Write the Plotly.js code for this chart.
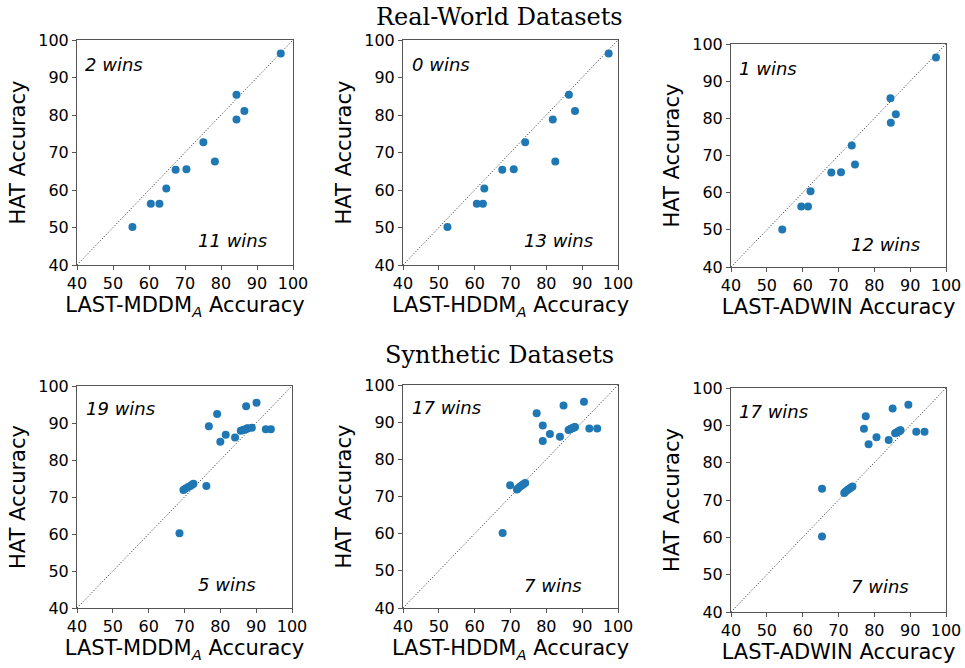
<!DOCTYPE html>
<html>
<head>
<meta charset="utf-8">
<script src="https://cdn.plot.ly/plotly-3.0.1.min.js"></script>
<style>html,body{margin:0;padding:0;background:#fff;}#chart{width:965px;height:668px;}</style>
</head>
<body>
<div id="chart"></div>
<script>
// ---- Real-world datasets ----
const realHAT   = [96.4, 85.4, 81.1, 78.8, 72.7, 67.6, 65.4, 65.5, 60.4, 56.3, 56.3, 50.1];
const realMDDM  = [96.6, 84.3, 86.5, 84.3, 75.1, 78.3, 67.4, 70.4, 64.8, 60.5, 62.9, 55.4];
const realHDDM  = [97.4, 86.3, 88.0, 81.8, 74.1, 82.5, 67.7, 70.9, 62.7, 60.6, 62.3, 52.4];
const realADWIN = [97.2, 84.5, 86.0, 84.6, 73.7, 74.6, 68.0, 70.7, 62.2, 59.6, 61.5, 54.3];

// ---- Synthetic datasets ----
const synHAT   = [95.5, 94.5, 92.4, 89.1, 86.8, 86.1, 84.9, 88.3, 88.3, 87.9, 88.1, 88.2, 88.4, 88.5, 88.6, 88.7, 73.0, 71.9, 72.3, 72.7, 73.0, 73.3, 73.6, 60.2];
const synMDDM  = [90.1, 87.2, 79.1, 76.8, 81.5, 84.1, 80.0, 92.7, 94.1, 85.7, 86.3, 86.8, 87.2, 87.5, 87.6, 88.8, 76.1, 69.7, 70.3, 71.0, 71.6, 72.1, 72.5, 68.6];
const synHDDM  = [90.5, 84.8, 77.3, 79.0, 81.0, 83.8, 79.0, 92.0, 94.2, 86.2, 86.6, 86.9, 87.3, 87.6, 87.8, 88.0, 69.9, 71.8, 72.2, 72.7, 73.2, 73.6, 74.1, 67.8];
const synADWIN = [89.5, 85.1, 77.6, 77.1, 80.6, 84.0, 78.4, 91.7, 94.0, 85.8, 86.2, 86.5, 86.8, 87.0, 87.2, 87.3, 65.4, 71.6, 72.0, 72.5, 73.0, 73.4, 73.9, 65.4];

const xTitles = ['LAST-MDDM<sub><i>A</i></sub> Accuracy', 'LAST-HDDM<sub><i>A</i></sub> Accuracy', 'LAST-ADWIN Accuracy'];
const yTitle = 'HAT Accuracy';
const winsTop = [['2 wins','11 wins'], ['0 wins','13 wins'], ['1 wins','12 wins'], ['19 wins','5 wins'], ['17 wins','7 wins'], ['17 wins','7 wins']];
const sectionTitles = ['Real-World Datasets', 'Synthetic Datasets'];
const tickVals = [40, 50, 60, 70, 80, 90, 100];

const W = 965, H = 668;
// pixel boxes [left, right, top, bottom]
const boxes = [
  [77, 293, 40, 265], [403, 618, 40, 265], [731, 946, 44, 267],
  [77, 292, 386, 608], [403, 618, 385, 608], [731, 946, 388, 612]
];
const winPos = [
  [[0.028,0.889],[0.55,0.107]], [[0.033,0.889],[0.553,0.107]], [[0.028,0.892],[0.549,0.103]],
  [[0.033,0.900],[0.553,0.104]], [[0.033,0.897],[0.553,0.103]], [[0.028,0.897],[0.549,0.112]]
];
const xs = [realMDDM, realHDDM, realADWIN, synMDDM, synHDDM, synADWIN];
const ys = [realHAT, realHAT, realHAT, synHAT, synHAT, synHAT];

const traces = [], shapes = [], annotations = [];
const layout = {
  width: W, height: H, margin: {l:0, r:0, t:0, b:0},
  paper_bgcolor: '#fff', plot_bgcolor: '#fff', showlegend: false,
  font: {family: 'DejaVu Sans', color: '#000'}
};
for (let i = 0; i < 6; i++) {
  const n = i === 0 ? '' : String(i + 1);
  const b = boxes[i];
  traces.push({
    type: 'scatter', mode: 'markers', x: xs[i], y: ys[i],
    xaxis: 'x' + n, yaxis: 'y' + n,
    marker: {color: '#1f77b4', size: 8, line: {width: 0}},
    hoverinfo: 'x+y'
  });
  const axCommon = {
    range: [40, 100], tickvals: tickVals, showgrid: false, zeroline: false,
    showline: true, mirror: true, linecolor: '#555', linewidth: 1,
    ticks: 'outside', ticklen: 4, tickcolor: '#555',
    tickfont: {size: 16, family: 'DejaVu Sans', color: '#000'}
  };
  layout['xaxis' + n] = Object.assign({}, axCommon, {
    domain: [b[0] / W, b[1] / W], anchor: 'y' + n,
    title: {text: xTitles[i % 3], font: {size: 21, family: 'DejaVu Sans'}, standoff: 4}
  });
  layout['yaxis' + n] = Object.assign({}, axCommon, {
    domain: [1 - b[3] / H, 1 - b[2] / H], anchor: 'x' + n,
    title: {text: yTitle, font: {size: 21, family: 'DejaVu Sans'}, standoff: 6}
  });
  shapes.push({type: 'line', xref: 'x' + n, yref: 'y' + n, x0: 40, y0: 40, x1: 100, y1: 100,
    line: {color: '#222', width: 1, dash: '1px,2px'}, layer: 'below'});
  for (let k = 0; k < 2; k++) {
    annotations.push({
      xref: 'x' + n + ' domain', yref: 'y' + n + ' domain',
      x: winPos[i][k][0], y: winPos[i][k][1], xanchor: 'left', yanchor: 'middle',
      text: '<i>' + winsTop[i][k] + '</i>', showarrow: false,
      font: {size: 18, family: 'DejaVu Sans', color: '#000'}
    });
  }
}
annotations.push({xref: 'paper', yref: 'paper', x: 500 / W, y: 1 - 17 / H, xanchor: 'center', yanchor: 'middle',
  text: sectionTitles[0], showarrow: false, font: {size: 24, family: 'DejaVu Serif', color: '#000'}});
annotations.push({xref: 'paper', yref: 'paper', x: 500 / W, y: 1 - 355 / H, xanchor: 'center', yanchor: 'middle',
  text: sectionTitles[1], showarrow: false, font: {size: 24, family: 'DejaVu Serif', color: '#000'}});
layout.shapes = shapes;
layout.annotations = annotations;
Plotly.newPlot('chart', traces, layout, {staticPlot: true, displayModeBar: false});
</script>
</body>
</html>
